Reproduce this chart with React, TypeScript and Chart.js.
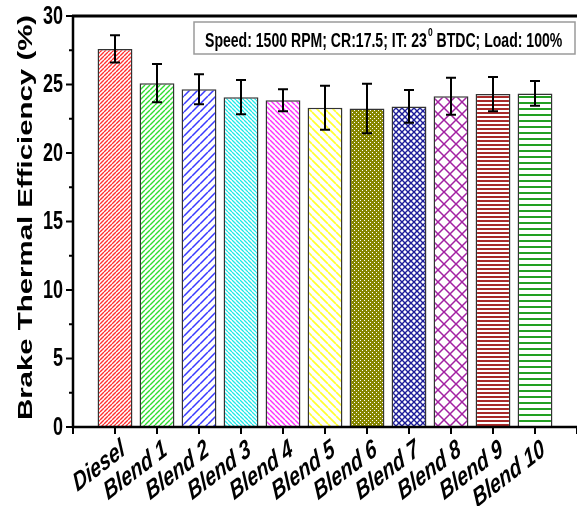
import React, { useEffect, useRef } from 'react';
import { Chart, registerables } from 'chart.js';

Chart.register(...registerables);

const categories = ['Diesel', 'Blend 1', 'Blend 2', 'Blend 3', 'Blend 4', 'Blend 5', 'Blend 6', 'Blend 7', 'Blend 8', 'Blend 9', 'Blend 10'];
const bte = [27.6, 25.1, 24.65, 24.07, 23.85, 23.3, 23.25, 23.4, 24.15, 24.3, 24.35];
const bteError = [1.0, 1.4, 1.1, 1.25, 0.8, 1.6, 1.8, 1.2, 1.35, 1.25, 0.9];
const yTicks = [0, 5, 10, 15, 20, 25, 30];
const yMinorTicks = [2.5, 7.5, 12.5, 17.5, 22.5, 27.5];
const yTitle = 'Brake Thermal Efficiency (%)';
const noteParts = ['Speed: 1500 RPM; CR:17.5; IT: 23', '0', ' BTDC; Load: 100%'];

const FONT = "Arial, 'Liberation Sans', sans-serif";
const K = 1.4; // vertical stretch of the reference picture

type PatKind = '/' | '\\' | 'x' | 'h' | 'dots';
function makePattern(kind: PatKind, color: string, s: number, lw: number): CanvasPattern | string {
  const c = document.createElement('canvas');
  c.width = s; c.height = s;
  const g = c.getContext('2d');
  if (!g) return color;
  g.fillStyle = '#ffffff';
  g.fillRect(0, 0, s, s);
  g.strokeStyle = color;
  g.fillStyle = color;
  g.lineWidth = lw;
  if (kind === '/' || kind === 'x') {
    g.beginPath();
    for (let k = -1; k <= 1; k++) { g.moveTo(k * s, s); g.lineTo(k * s + s, 0); }
    g.stroke();
  }
  if (kind === '\\' || kind === 'x') {
    g.beginPath();
    for (let k = -1; k <= 1; k++) { g.moveTo(k * s, 0); g.lineTo(k * s + s, s); }
    g.stroke();
  }
  if (kind === 'h') {
    g.fillRect(0, 0, s, lw);
  }
  if (kind === 'dots') {
    g.fillRect(0, 0, s, s);
    g.fillStyle = '#ffffff';
    g.fillRect(0, 0, 1, 1);
    g.fillRect(2, 2, 1, 1);
  }
  const p = g.createPattern(c, 'repeat');
  return p || color;
}

const decorPlugin = {
  id: 'decor',
  afterDraw(chart: any) {
    const ctx: CanvasRenderingContext2D = chart.ctx;
    const { left, right, top, bottom } = chart.chartArea;
    const xs = chart.scales.x;
    const ys = chart.scales.y;
    ctx.save();

    // error bars
    ctx.strokeStyle = '#000';
    ctx.lineWidth = 2;
    for (let i = 0; i < bte.length; i++) {
      const x = xs.getPixelForValue(i + 1);
      const yt = ys.getPixelForValue(bte[i] + bteError[i]);
      const yb = ys.getPixelForValue(bte[i] - bteError[i]);
      ctx.beginPath();
      ctx.moveTo(x, yt); ctx.lineTo(x, yb);
      ctx.moveTo(x - 5, yt); ctx.lineTo(x + 5, yt);
      ctx.moveTo(x - 5, yb); ctx.lineTo(x + 5, yb);
      ctx.stroke();
    }

    // axes frame
    ctx.lineWidth = 2.5;
    ctx.beginPath();
    ctx.moveTo(left, top - 1); ctx.lineTo(left, bottom);
    ctx.lineTo(right, bottom);
    ctx.stroke();
    ctx.lineWidth = 3;
    ctx.beginPath();
    ctx.moveTo(left - 1, top); ctx.lineTo(right, top);
    ctx.stroke();

    // y ticks
    ctx.lineWidth = 2;
    ctx.beginPath();
    for (const v of yTicks) {
      const y = ys.getPixelForValue(v);
      ctx.moveTo(left - 7, y); ctx.lineTo(left, y);
    }
    for (const v of yMinorTicks) {
      const y = ys.getPixelForValue(v);
      ctx.moveTo(left - 4, y); ctx.lineTo(left, y);
    }
    // x ticks
    for (let i = 0; i <= categories.length + 1; i++) {
      const x = xs.getPixelForValue(i);
      ctx.moveTo(x, bottom); ctx.lineTo(x, bottom + 7);
    }
    ctx.stroke();

    ctx.fillStyle = '#000';
    // y tick labels
    ctx.font = `bold 18px ${FONT}`;
    ctx.textAlign = 'right';
    ctx.textBaseline = 'middle';
    for (const v of yTicks) {
      const y = ys.getPixelForValue(v);
      ctx.save();
      ctx.translate(left - 10, y + 1);
      ctx.scale(1, K);
      ctx.fillText(String(v), 0, 0);
      ctx.restore();
    }

    // y title
    ctx.save();
    ctx.font = `bold 21px ${FONT}`;
    ctx.textAlign = 'center';
    ctx.textBaseline = 'middle';
    ctx.translate(26, (top + bottom) / 2 - 4);
    ctx.scale(1, K);
    ctx.rotate(-Math.PI / 2);
    ctx.fillText(yTitle, 0, 0);
    ctx.restore();

    // x labels
    const theta = (29 * Math.PI) / 180;
    ctx.font = `italic bold 19px ${FONT}`;
    ctx.textAlign = 'right';
    ctx.textBaseline = 'top';
    for (let i = 0; i < categories.length; i++) {
      const x = xs.getPixelForValue(i + 1);
      ctx.save();
      ctx.translate(x + 4, bottom + 9);
      ctx.scale(1, K);
      ctx.rotate(-theta);
      ctx.fillText(categories[i], 0, 0);
      ctx.restore();
    }

    // annotation box
    ctx.fillStyle = '#fff';
    ctx.fillRect(194, 22, 381, 32);
    ctx.strokeStyle = '#9a9a9a';
    ctx.lineWidth = 1.5;
    ctx.strokeRect(194, 22, 381, 32);
    ctx.fillStyle = '#000';
    ctx.textAlign = 'left';
    ctx.textBaseline = 'alphabetic';
    const base = 12;
    ctx.font = `bold ${base}px ${FONT}`;
    const w0 = ctx.measureText(noteParts[0]).width + ctx.measureText(noteParts[2]).width;
    ctx.font = `bold ${base * 0.6}px ${FONT}`;
    const wsup = ctx.measureText(noteParts[1]).width;
    const f = base * (356 - wsup) / w0;
    ctx.save();
    ctx.translate(205, 47);
    ctx.scale(1, K);
    ctx.font = `bold ${f}px ${FONT}`;
    ctx.fillText(noteParts[0], 0, 0);
    let cx = ctx.measureText(noteParts[0]).width;
    ctx.font = `bold ${f * 0.6}px ${FONT}`;
    ctx.fillText(noteParts[1], cx + 1, -f * 0.55);
    cx += ctx.measureText(noteParts[1]).width + 1;
    ctx.font = `bold ${f}px ${FONT}`;
    ctx.fillText(noteParts[2], cx, 0);
    ctx.restore();

    ctx.restore();
  },
};

export default function App() {
  const ref = useRef<HTMLCanvasElement | null>(null);
  useEffect(() => {
    if (!ref.current) return;
    const patterns = [
      makePattern('/', '#ff3030', 4, 1.4),
      makePattern('/', '#30dd30', 5, 1.4),
      makePattern('/', '#3a3aff', 8, 1.5),
      makePattern('\\', '#20e8e8', 4, 1.3),
      makePattern('\\', '#ff30ff', 5, 1.4),
      makePattern('\\', '#ffff30', 8, 1.7),
      makePattern('dots', '#868600', 4, 1),
      makePattern('x', '#1c1c99', 6, 1.4),
      makePattern('x', '#a222a2', 12, 1.5),
      makePattern('h', '#a82a2a', 4, 2),
      makePattern('h', '#22a022', 6, 2),
    ];
    const labels = ['', ...categories, ''];
    const data = [null, ...bte, null];
    const chart = new Chart(ref.current, {
      type: 'bar',
      data: {
        labels,
        datasets: [
          {
            data,
            backgroundColor: [null, ...patterns, null] as any,
            borderColor: '#333333',
            borderWidth: 1.5,
            barPercentage: 0.83,
            categoryPercentage: 1,
          },
        ],
      },
      options: {
        animation: false,
        responsive: true,
        maintainAspectRatio: false,
        layout: { padding: { top: 16, left: 0, right: 0, bottom: 0 } },
        plugins: { legend: { display: false }, tooltip: { enabled: false }, title: { display: false } },
        scales: {
          x: {
            type: 'category',
            offset: false,
            grid: { display: false },
            border: { display: false },
            ticks: { display: false },
            afterFit: (s: any) => { s.height = 79; },
          },
          y: {
            min: 0,
            max: 30,
            grid: { display: false },
            border: { display: false },
            ticks: { display: false, stepSize: 5 },
            afterFit: (s: any) => { s.width = 73; },
          },
        },
      },
      plugins: [decorPlugin],
    } as any);
    return () => chart.destroy();
  }, []);
  return (
    <div style={{ position: 'fixed', left: 0, top: 0, width: 577, height: 506, background: '#fff' }}>
      <canvas ref={ref} />
    </div>
  );
}
